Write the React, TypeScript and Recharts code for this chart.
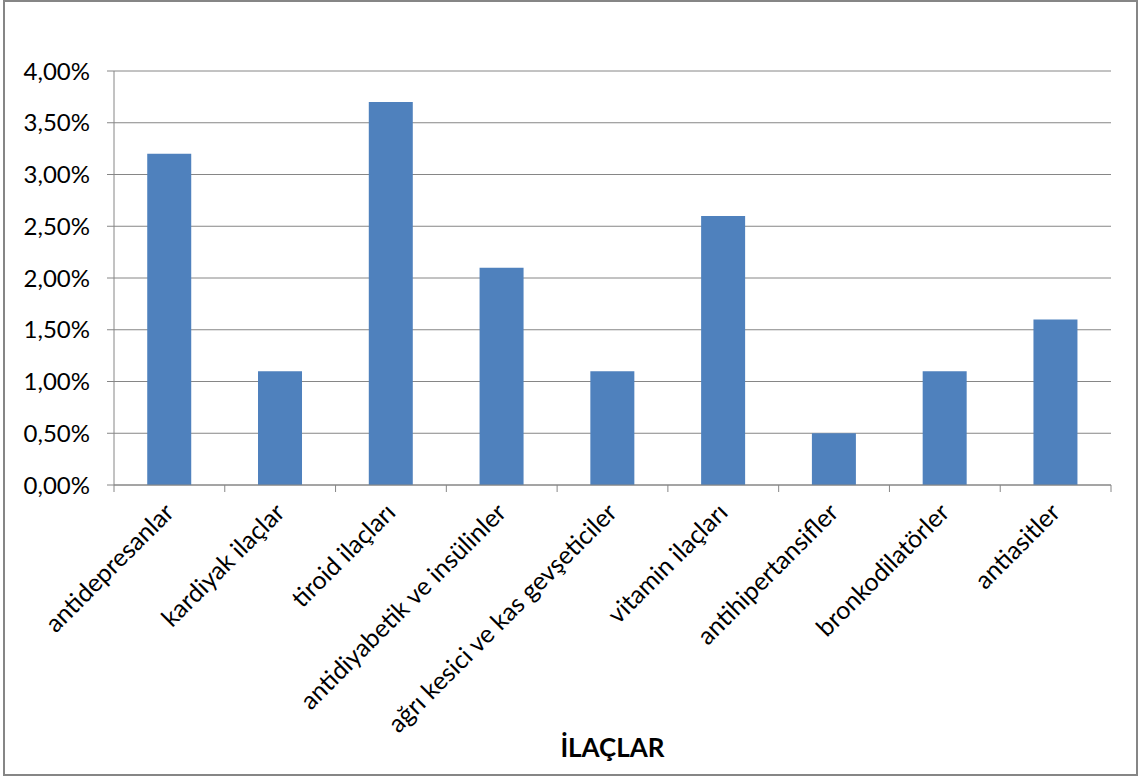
import React from 'react';
import { BarChart, Bar, XAxis, YAxis, CartesianGrid, Label } from 'recharts';

const categories = [
    'antidepresanlar',
    'kardiyak ilaçlar',
    'tiroid ilaçları',
    'antidiyabetik ve insülinler',
    'ağrı kesici ve kas gevşeticiler',
    'vitamin ilaçları',
    'antihipertansifler',
    'bronkodilatörler',
    'antiasitler',
];
const values = [0.032, 0.011, 0.037, 0.021, 0.011, 0.026, 0.005, 0.011, 0.016];
const yTicks = [0, 0.005, 0.01, 0.015, 0.02, 0.025, 0.03, 0.035, 0.04];

const data = categories.map((name, i) => ({ name, value: values[i] }));

const FONT = 'Lato, "Open Sans", sans-serif';
const AXIS = '#868686';

const fmtPct = (v: number) => (v * 100).toFixed(2).replace('.', ',') + '%';

// rotated category label + tick marks on category boundaries
const CategoryTick = (props: any) => {
    const { x, y, payload, index } = props;
    const band = 997 / categories.length;
    const half = band / 2;
    const top = y - 8;
    return (
        <g>
            {index === 0 && <line x1={x - half} y1={top} x2={x - half} y2={top + 7} stroke={AXIS} />}
            <line x1={x + half} y1={top} x2={x + half} y2={top + 7} stroke={AXIS} />
            <text
                x={x + 6}
                y={y + 21}
                textAnchor="end"
                transform={`rotate(-45, ${x + 6}, ${y + 21})`}
                fontSize={25}
                fontFamily={FONT}
                fill="#000"
            >
                {payload.value}
            </text>
        </g>
    );
};

export default function App() {
    return (
        <div style={{ position: 'relative', width: 1138, height: 776, background: 'white' }}>
            <style>{`body { margin: 0; }`}</style>
            <div
                style={{
                    position: 'absolute', left: 3, top: 0, width: 1135, height: 776,
                    border: `2px solid ${AXIS}`, boxSizing: 'border-box',
                }}
            />
            <div style={{ position: 'absolute', left: 0, top: 0 }}>
                <BarChart
                    width={1138}
                    height={776}
                    data={data}
                    margin={{ top: 71, right: 27, bottom: 0, left: 14 }}
                    barCategoryGap="30%"
                >
                    <CartesianGrid vertical={false} stroke={AXIS} strokeWidth={1} />
                    <XAxis
                        dataKey="name"
                        interval={0}
                        height={291}
                        tickLine={false}
                        axisLine={{ stroke: AXIS }}
                        tick={<CategoryTick />}
                    >
                        <Label
                            value="İLAÇLAR"
                            position="insideBottom"
                            offset={19}
                            style={{ fontSize: 26, fontWeight: 700, fontFamily: FONT, fill: '#000' }}
                        />
                    </XAxis>
                    <YAxis
                        width={100}
                        domain={[0, 0.04]}
                        ticks={yTicks}
                        tickFormatter={fmtPct}
                        tickLine={{ stroke: AXIS }}
                        tickSize={7}
                        tickMargin={17}
                        axisLine={{ stroke: AXIS }}
                        tick={{ fontSize: 24, fontFamily: FONT, fill: '#000' }}
                    />
                    <Bar dataKey="value" fill="#4F81BD" isAnimationActive={false} />
                </BarChart>
            </div>
        </div>
    );
}
